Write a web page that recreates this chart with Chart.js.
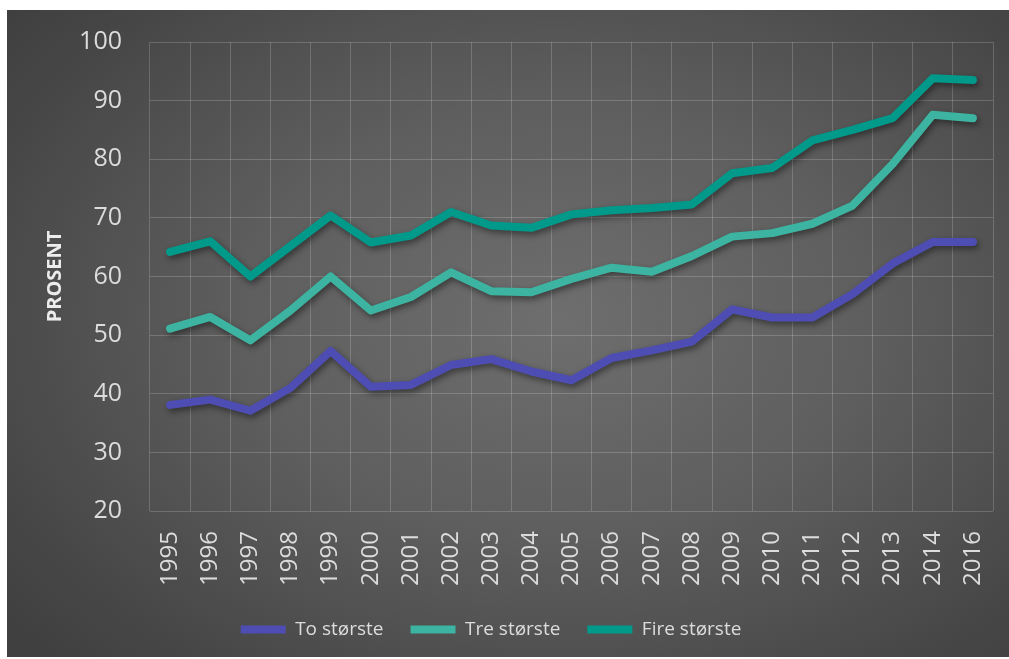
<!DOCTYPE html>
<html>
<head>
<meta charset="utf-8">
<script src="https://cdn.jsdelivr.net/npm/chart.js@4.4.1/dist/chart.umd.min.js"></script>
<style>
  html, body { margin: 0; padding: 0; background: #fff; }
  #panel {
    position: absolute; left: 7px; top: 10px; width: 1002px; height: 647px;
    background: radial-gradient(ellipse 70% 75% at 55% 48%, #6e6e6e 0%, #5e5e5e 45%, #474747 85%, #404040 100%);
  }
</style>
</head>
<body>
<div id="panel"><canvas id="myChart" width="1002" height="647"></canvas></div>
<script>
'use strict';

let years = ['1995','1996','1997','1998','1999','2000','2001','2002','2003','2004','2005',
  '2006','2007','2008','2009','2010','2011','2012','2013','2014','2016'];

let to_storste = [38.1, 39.0, 37.1, 41.0, 47.3, 41.2, 41.5, 44.9, 45.9, 43.8, 42.3,
  46.1, 47.4, 48.9, 54.4, 53.0, 53.0, 57.0, 62.2, 65.9, 65.9];
let tre_storste = [51.1, 53.1, 49.1, 54.2, 60.0, 54.2, 56.5, 60.7, 57.5, 57.3, 59.6,
  61.5, 60.8, 63.5, 66.8, 67.4, 69.0, 72.1, 79.2, 87.6, 87.0];
let fire_storste = [64.2, 66.0, 60.0, 65.2, 70.4, 65.8, 67.0, 71.0, 68.7, 68.3, 70.6,
  71.3, 71.7, 72.3, 77.6, 78.5, 83.2, 85.0, 87.0, 93.8, 93.5];

let y_ticks = [20, 30, 40, 50, 60, 70, 80, 90, 100];

let txt = '#dcdcdc';
let grid = 'rgba(255,255,255,0.18)';
let font_name = '"Open Sans", "Noto Sans", sans-serif';

function line_set(label, data, color) {
  return {
    label: label,
    data: data,
    borderColor: color,
    backgroundColor: color,
    borderWidth: 8,
    borderCapStyle: 'round',
    borderJoinStyle: 'round',
    pointRadius: 0,
    pointHoverRadius: 0,
    tension: 0,
    fill: false
  };
}

// soft drop shadow under the lines
let shadow_plugin = {
  id: 'lineShadow',
  beforeDatasetsDraw(chart) {
    let ctx = chart.ctx;
    ctx.save();
    ctx.shadowColor = 'rgba(0,0,0,0.45)';
    ctx.shadowBlur = 6;
    ctx.shadowOffsetX = 2;
    ctx.shadowOffsetY = 3;
  },
  afterDatasetsDraw(chart) {
    chart.ctx.restore();
  }
};

// legend sits a bit left of the middle
let legend_shift = {
  id: 'legendShift',
  afterLayout(chart) {
    chart.legend.left -= 9;
    chart.legend.right -= 9;
  }
};

let ctx = document.getElementById('myChart').getContext('2d');
new Chart(ctx, {
  type: 'line',
  data: {
    labels: years,
    datasets: [
      line_set('To største', to_storste, '#4d4db3'),
      line_set('Tre største', tre_storste, '#3db4a1'),
      line_set('Fire største', fire_storste, '#00998a')
    ]
  },
  plugins: [shadow_plugin, legend_shift],
  options: {
    responsive: false,
    animation: false,
    layout: { padding: { top: 32, right: 16, left: 0, bottom: 8 } },
    plugins: {
      tooltip: { enabled: false },
      legend: {
        position: 'bottom',
        labels: {
          usePointStyle: true,
          pointStyle: 'line',
          pointStyleWidth: 45,
          boxHeight: 19,
          padding: 27,
          color: txt,
          font: { family: font_name, size: 19 }
        }
      }
    },
    scales: {
      x: {
        offset: true,
        grid: { color: grid, lineWidth: 1, drawTicks: false, offset: true },
        border: { display: false },
        ticks: {
          color: txt,
          font: { family: font_name, size: 24 },
          minRotation: 90,
          maxRotation: 90,
          padding: 20,
          autoSkip: false
        },
        afterFit(scale) {
          scale.height = 82;
          scale.paddingLeft = 0;
          scale.paddingRight = 0;
        }
      },
      y: {
        min: 20,
        max: 100,
        afterBuildTicks(scale) { scale.ticks = y_ticks.map(v => ({ value: v })); },
        grid: { color: grid, lineWidth: 1, drawTicks: false },
        border: { display: false },
        ticks: {
          color: txt,
          font: { family: font_name, size: 25 },
          padding: 28
        },
        title: {
          display: true,
          text: 'PROSENT',
          color: '#ececec',
          font: { family: font_name, size: 20, weight: 'bold' },
          padding: { top: 36, bottom: 0 }
        },
        afterFit(scale) {
          scale.width = 143;
          scale.paddingTop = 0;
          scale.paddingBottom = 0;
        }
      }
    }
  }
});
</script>
</body>
</html>
